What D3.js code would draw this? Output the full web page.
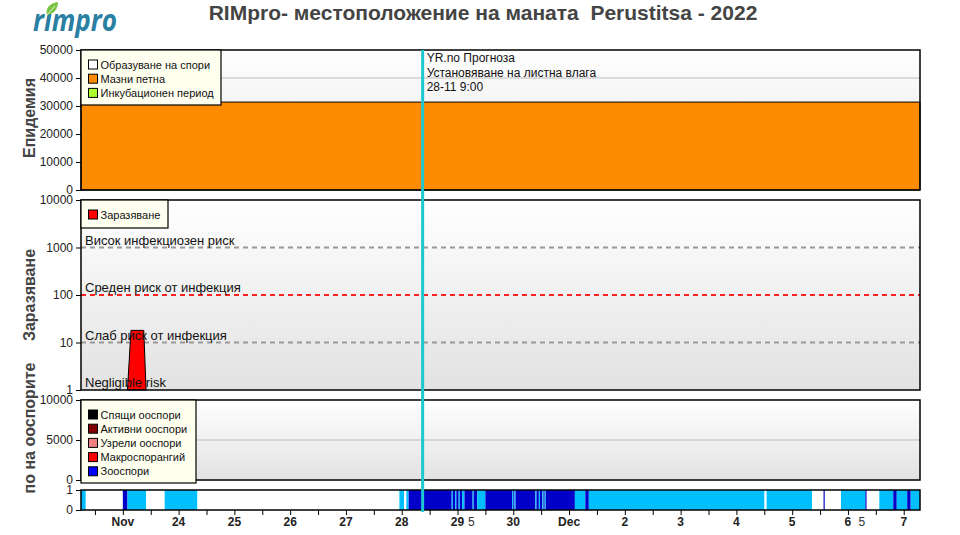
<!DOCTYPE html>
<html><head><meta charset="utf-8">
<script src="https://cdn.jsdelivr.net/npm/d3@7"></script>
<style>
body{margin:0;background:#fff;}
svg{display:block;font-family:Arial,"Liberation Sans",sans-serif;}
</style></head>
<body><svg id="c" width="960" height="535"></svg>
<script>
// ---------- DATA ----------
const titleText = "RIMpro- местоположение на маната  Perustitsa - 2022";
const domainStart = "2022-11-22 06:00";
const domainEnd = "2022-12-07 07:00";
const forecastTime = "2022-11-28 09:00";
const forecastLines = ["YR.no Прогноза", "Установяване на листна влага", "28-11 9:00"];

// Epidemic (Мазни петна) daily values
const epidemicDates = ["2022-11-22 06:00","2022-11-23 00:00","2022-11-24 00:00","2022-11-25 00:00","2022-11-26 00:00","2022-11-27 00:00","2022-11-28 00:00","2022-11-29 00:00","2022-11-30 00:00","2022-12-01 00:00","2022-12-02 00:00","2022-12-03 00:00","2022-12-04 00:00","2022-12-05 00:00","2022-12-06 00:00","2022-12-07 00:00","2022-12-07 07:00"];
const epidemicValues = [31400,31400,31400,31400,31400,31400,31400,31400,31400,31400,31400,31400,31400,31400,31400,31400,31400];
const epidemicTicks = [0,10000,20000,30000,40000,50000];

// Infection (Заразяване)
const infectionDates = ["2022-11-23 02:00","2022-11-23 03:30","2022-11-23 09:00","2022-11-23 10:00"];
const infectionValues = [1, 18, 18, 1];
const infectionTicks = [1,10,100,1000,10000];
const riskLevels = [1000, 100, 10, 1];
const riskLabels = ["Висок инфекциозен риск","Среден риск от инфекция","Слаб риск от инфекция","Negligible risk"];

// Oospore panel
const oosporeTicks = [0,5000,10000];

// Leaf wetness strip: segment start time + state (0 none,1 wet,2 wet+rain)
const stripStarts = ["2022-11-22 06:00","2022-11-22 08:00","2022-11-23 00:00","2022-11-23 02:00","2022-11-23 10:00","2022-11-23 18:00","2022-11-24 08:00",
 "2022-11-27 23:00","2022-11-28 01:00","2022-11-28 02:00","2022-11-28 03:00","2022-11-28 21:30","2022-11-28 22:00","2022-11-28 23:00","2022-11-28 23:30",
 "2022-11-29 00:30","2022-11-29 01:00","2022-11-29 02:00","2022-11-29 03:00","2022-11-29 06:30","2022-11-29 07:00","2022-11-29 08:30","2022-11-29 12:00",
 "2022-11-29 23:30","2022-11-30 00:00","2022-11-30 00:30","2022-11-30 01:00","2022-11-30 09:30","2022-11-30 10:00","2022-11-30 11:00","2022-11-30 11:30",
 "2022-11-30 12:30","2022-11-30 13:00","2022-11-30 13:30","2022-11-30 14:00","2022-12-01 02:30","2022-12-01 07:00","2022-12-01 08:30","2022-12-04 12:00",
 "2022-12-04 13:00","2022-12-05 08:30","2022-12-05 13:30","2022-12-05 14:00","2022-12-05 21:00","2022-12-06 07:30","2022-12-06 08:00","2022-12-06 13:30",
 "2022-12-06 19:30","2022-12-06 21:00","2022-12-07 01:30","2022-12-07 03:00"];
const stripStates = [1,0,2,1,0,1,0,
 1,0,1,2,1,2,1,2,
 1,2,1,2,1,2,1,2,
 1,2,1,2,1,2,1,2,
 1,2,1,2,1,2,1,0,
 1,0,2,0,1,2,0,1,
 2,1,2,1];

// X-axis labels (at midnight)
const dayDates = ["2022-11-23","2022-11-24","2022-11-25","2022-11-26","2022-11-27","2022-11-28","2022-11-29","2022-11-30","2022-12-01","2022-12-02","2022-12-03","2022-12-04","2022-12-05","2022-12-06","2022-12-07"];
const dayLabels = ["Nov","24","25","26","27","28","29","30","Dec","2","3","4","5","6","7"];
const extraLabelDates = ["2022-11-29 06:00","2022-12-06 06:00"];
const extraLabels = ["5","5"];

const legend1 = ["Образуване на спори","Мазни петна","Инкубационен период"];
const legend1Colors = ["#ffffff","#ff8c00","#adff2f"];
const legend2 = ["Заразяване"];
const legend2Colors = ["#ff0000"];
const legend3 = ["Спящи ооспори","Активни ооспори","Узрели ооспори","Макроспорангий","Зооспори"];
const legend3Colors = ["#000000","#800000","#f08080","#ff0000","#0000ff"];

// ---------- DRAW ----------
const P = d3.timeParse("%Y-%m-%d %H:%M");
const PD = d3.timeParse("%Y-%m-%d");
const svg = d3.select("#c");
const L = 81, R = 920;
const x = d3.scaleTime().domain([P(domainStart), P(domainEnd)]).range([L, R]);

const defs = svg.append("defs");
const g = defs.append("linearGradient").attr("id","bg").attr("x1",0).attr("y1",0).attr("x2",0).attr("y2",1);
g.append("stop").attr("offset","0%").attr("stop-color","#ffffff");
g.append("stop").attr("offset","100%").attr("stop-color","#e2e2e2");

// logo
const logo = svg.append("g");
logo.append("text").attr("x",33).attr("y",31).attr("font-family","'Open Sans',sans-serif").attr("font-style","italic")
  .attr("font-weight",700).attr("font-size",30).attr("fill","#2a7fa3").attr("textLength",84).attr("lengthAdjust","spacingAndGlyphs").text("rimpro");
logo.append("path").attr("d","M47,15 C45,8 50,3 58,2 C58,9 54,14 47,15 Z").attr("fill","#7cc242");
logo.append("path").attr("d","M47,15 L55,6").attr("stroke","#fff").attr("stroke-width",0.8);

// title
svg.append("text").attr("x",483).attr("y",20).attr("text-anchor","middle").attr("font-weight","bold")
  .attr("font-size",21).attr("fill","#444").style("white-space","pre").text(titleText);

function panel(y0, y1){
  svg.append("rect").attr("x",L).attr("y",y0).attr("width",R-L).attr("height",y1-y0).attr("fill","url(#bg)");
}
function border(y0,y1){
  svg.append("rect").attr("x",L).attr("y",y0).attr("width",R-L).attr("height",y1-y0).attr("fill","none").attr("stroke","#000").attr("stroke-width",1.5);
}
function yAxis(scale, ticks, fmt){
  const a = svg.append("g").attr("transform",`translate(${L},0)`)
    .call(d3.axisLeft(scale).tickValues(ticks).tickSize(5).tickFormat(fmt||d3.format("d")));
  a.select(".domain").remove();
  a.selectAll("text").attr("font-size",12).attr("fill","#222").attr("font-family","Arial,'Liberation Sans',sans-serif");
  a.selectAll("line").attr("stroke","#000");
}
function legend(x0,y0,w,h,items,colors){
  svg.append("rect").attr("x",x0).attr("y",y0).attr("width",w).attr("height",h).attr("fill","#fffff0").attr("stroke","#000").attr("stroke-width",1.2);
  items.forEach((t,i)=>{
    svg.append("rect").attr("x",x0+7.5).attr("y",y0+10+i*14.2).attr("width",9).attr("height",9).attr("fill",colors[i]).attr("stroke","#000").attr("stroke-width",1);
    svg.append("text").attr("x",x0+19.5).attr("y",y0+18.5+i*14.2).attr("font-size",11).attr("fill","#111").text(t);
  });
}
function yTitle(t, cy){
  svg.append("text").attr("transform",`translate(35,${cy}) rotate(-90)`).attr("text-anchor","middle")
    .attr("font-weight","bold").attr("font-size",16).attr("fill","#444").text(t);
}

// Panel 1
const y1 = d3.scaleLinear().domain([0,50000]).range([190,50]);
panel(50,190);
svg.append("g").selectAll("line").data(epidemicTicks.slice(1,-1)).join("line")
  .attr("x1",L).attr("x2",R).attr("y1",d=>y1(d)).attr("y2",d=>y1(d)).attr("stroke","#bbb");
svg.append("path").datum(epidemicDates.map((d,i)=>[P(d),epidemicValues[i]]))
  .attr("d", d3.area().x(d=>x(d[0])).y0(y1(0)).y1(d=>y1(d[1])))
  .attr("fill","#ff8c00").attr("stroke","#000").attr("stroke-width",1);
border(50,190);
yAxis(y1, epidemicTicks);
legend(81,50,140,55,legend1,legend1Colors);
forecastLines.forEach((t,i)=>svg.append("text").attr("x",x(P(forecastTime))+4).attr("y",62+i*14.5).attr("font-size",12).attr("fill","#111").text(t));
yTitle("Епидемия",118);

// Panel 2
const y2 = d3.scaleLog().domain([1,10000]).range([390,200]);
panel(200,390);
riskLevels.forEach((v,i)=>{
  if (v>1) svg.append("line").attr("x1",L).attr("x2",R).attr("y1",y2(v)).attr("y2",y2(v))
    .attr("stroke", v===100 ? "#ff2020" : "#999").attr("stroke-width",2).attr("stroke-dasharray","5,4");
});
svg.append("path").datum(infectionDates.map((d,i)=>[P(d),infectionValues[i]]))
  .attr("d", d3.area().x(d=>x(d[0])).y0(y2(1)).y1(d=>y2(d[1])))
  .attr("fill","#ff0000").attr("stroke","#000").attr("stroke-width",1);
riskLevels.forEach((v,i)=>{
  svg.append("text").attr("x",85).attr("y",y2(v)-3).attr("font-size",13).attr("fill","#111").text(riskLabels[i]);
});
border(200,390);
yAxis(y2, infectionTicks);
legend(81,200,87,28,legend2,legend2Colors);
yTitle("Заразяване",295);

// Panel 3
const y3 = d3.scaleLinear().domain([0,10000]).range([480,400]);
panel(400,480);
svg.append("line").attr("x1",L).attr("x2",R).attr("y1",y3(5000)).attr("y2",y3(5000)).attr("stroke","#bbb");
border(400,480);
yAxis(y3, oosporeTicks);
legend(81,400,115,83,legend3,legend3Colors);
yTitle("по на ооспорите",428);

// Strip
const ys = d3.scaleLinear().domain([0,1]).range([510,490]);
svg.append("rect").attr("x",L).attr("y",490).attr("width",R-L).attr("height",20).attr("fill","#fff");
const stripColors = [null,"#00bfff","#0000c8"];
const segs = stripStarts.map((s,i)=>({s:P(s), e: P(i<stripStarts.length-1?stripStarts[i+1]:domainEnd), st:stripStates[i]})).filter(d=>d.st>0);
svg.append("g").selectAll("rect").data(segs).join("rect")
  .attr("x",d=>x(d.s)).attr("width",d=>x(d.e)-x(d.s)).attr("y",ys(1)).attr("height",ys(0)-ys(1))
  .attr("fill",d=>stripColors[d.st]);
border(490,510);
yAxis(ys,[0,1]);

// X axis
const xa = svg.append("g").attr("transform","translate(0,510)")
  .call(d3.axisBottom(x).ticks(d3.timeHour.every(12)).tickSize(5).tickFormat(""));
xa.select(".domain").remove();
xa.selectAll("line").attr("stroke","#000");
dayDates.forEach((d,i)=>svg.append("text").attr("x",x(PD(d))).attr("y",526).attr("text-anchor","middle")
  .attr("font-weight","bold").attr("font-size",12).attr("fill","#222").text(dayLabels[i]));
extraLabelDates.forEach((d,i)=>svg.append("text").attr("x",x(P(d))).attr("y",526).attr("text-anchor","middle")
  .attr("font-size",12).attr("fill","#333").text(extraLabels[i]));

// forecast vertical line
svg.append("line").attr("x1",x(P(forecastTime))).attr("x2",x(P(forecastTime))).attr("y1",50).attr("y2",512)
  .attr("stroke","#1ec8d0").attr("stroke-width",3);
</script></body></html>
